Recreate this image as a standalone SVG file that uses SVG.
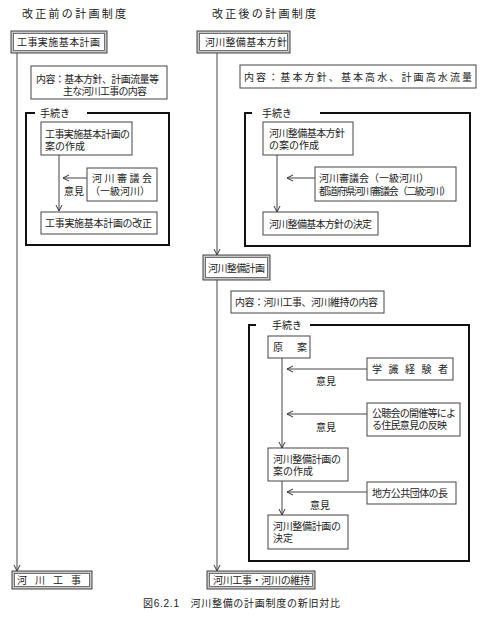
<svg xmlns="http://www.w3.org/2000/svg" width="481" height="617" viewBox="0 0 481 617">
<defs>
<marker id="arr" viewBox="0 0 8 8" refX="7" refY="4" markerWidth="8" markerHeight="8" markerUnits="userSpaceOnUse" orient="auto">
<path d="M1,1 L7,4 L1,7" fill="none" stroke="#333" stroke-width="1"/>
</marker>
<style>
text{font-family:"Liberation Sans","Noto Sans CJK JP","Noto Sans CJK SC",sans-serif;font-size:10px;fill:#222}
.t{font-size:11px}
.b{fill:#fff;stroke:#444;stroke-width:1}
.dbo{fill:#c8c8c8;stroke:#444;stroke-width:1}
.dbi{fill:#fff;stroke:#555;stroke-width:0.8}
.pr{fill:none;stroke:#111;stroke-width:2}
.ln{fill:none;stroke:#444;stroke-width:1}
.gap{stroke:#fff;stroke-width:4}
</style>
</defs>
<rect width="481" height="617" fill="#fff"/>

<g id="connectors">
<line class="ln" x1="17" y1="53" x2="17" y2="571" marker-end="url(#arr)"/>
<line class="ln" x1="59" y1="155" x2="59" y2="211" marker-end="url(#arr)"/>
<line class="ln" x1="87" y1="178" x2="63" y2="178" marker-end="url(#arr)"/>
<line class="ln" x1="217" y1="53" x2="217" y2="255" marker-end="url(#arr)"/>
<line class="ln" x1="277" y1="155" x2="277" y2="212" marker-end="url(#arr)"/>
<line class="ln" x1="315" y1="178" x2="287" y2="178" marker-end="url(#arr)"/>
<line class="ln" x1="217" y1="280" x2="217" y2="571" marker-end="url(#arr)"/>
<line class="ln" x1="282" y1="358" x2="282" y2="448" marker-end="url(#arr)"/>
<line class="ln" x1="367" y1="369" x2="287" y2="369" marker-end="url(#arr)"/>
<line class="ln" x1="367" y1="414" x2="287" y2="414" marker-end="url(#arr)"/>
<line class="ln" x1="282" y1="481" x2="282" y2="515" marker-end="url(#arr)"/>
<line class="ln" x1="367" y1="492" x2="287" y2="492" marker-end="url(#arr)"/>
</g>

<g id="title-left"><text class="t" x="22" y="18" textLength="104">改正前の計画制度</text></g>
<g id="title-right"><text class="t" x="212" y="18" textLength="104">改正後の計画制度</text></g>

<g id="old-plan">
<rect class="dbo" x="11" y="31" width="96" height="22"/>
<rect class="dbi" x="13.5" y="33.5" width="91" height="17"/>
<text x="17" y="46" textLength="83">工事実施基本計画</text>
</g>
<g id="old-content">
<rect class="b" x="31" y="66" width="136" height="33"/>
<text x="36" y="83" textLength="123">内容：基本方針、計画流量等</text>
<text x="63" y="95" textLength="84">主な河川工事の内容</text>
</g>
<g id="old-procedure">
<rect class="pr" x="26" y="113" width="143" height="132"/>
<line class="gap" x1="35" y1="113" x2="87" y2="113"/>
<text x="40" y="117">手続き</text>
</g>
<g id="old-draft">
<rect class="b" x="41" y="122" width="91" height="33"/>
<text x="45" y="138" textLength="85">工事実施基本計画の</text>
<text x="45" y="150">案の作成</text>
</g>
<g id="old-council">
<rect class="b" x="87" y="168" width="70" height="33"/>
<text x="92" y="182" textLength="60">河川審議会</text>
<text x="90" y="195" textLength="60">（一級河川）</text>
</g>
<text x="64" y="195">意見</text>
<g id="old-revision">
<rect class="b" x="41" y="212" width="116" height="22"/>
<text x="45" y="227" textLength="107">工事実施基本計画の改正</text>
</g>
<g id="old-works">
<rect class="dbo" x="12" y="571" width="80" height="18"/>
<rect class="dbi" x="14.5" y="573.5" width="75" height="13"/>
<text x="17" y="584" textLength="64">河 川 工 事</text>
</g>

<g id="basic-policy">
<rect class="dbo" x="197" y="31" width="93" height="22"/>
<rect class="dbi" x="199.5" y="33.5" width="88" height="17"/>
<text x="205" y="46" textLength="82">河川整備基本方針</text>
</g>
<g id="basic-content">
<rect class="b" x="240" y="65" width="236" height="23"/>
<text x="244" y="81" textLength="228">内容：基本方針、基本高水、計画高水流量</text>
</g>
<g id="basic-procedure">
<rect class="pr" x="245" y="113" width="225" height="133"/>
<line class="gap" x1="252" y1="113" x2="320" y2="113"/>
<text x="262" y="117">手続き</text>
</g>
<g id="basic-draft">
<rect class="b" x="263" y="122" width="90" height="33"/>
<text x="269" y="137" textLength="76">河川整備基本方針</text>
<text x="269" y="149">の案の作成</text>
</g>
<g id="basic-council">
<rect class="b" x="315" y="167" width="141" height="34"/>
<text x="319" y="182">河川審議会（一級河川）</text>
<text x="319" y="195" textLength="132">都道府県河川審議会（二級河川）</text>
</g>
<g id="basic-decision">
<rect class="b" x="263" y="212" width="115" height="23"/>
<text x="269" y="228" textLength="103">河川整備基本方針の決定</text>
</g>

<g id="river-plan">
<rect class="dbo" x="203" y="255" width="67" height="25"/>
<rect class="dbi" x="205.5" y="257.5" width="62" height="20"/>
<text x="208" y="272" textLength="57">河川整備計画</text>
</g>
<g id="plan-content">
<rect class="b" x="231" y="291" width="153" height="22"/>
<text x="235" y="306" textLength="143">内容：河川工事、河川維持の内容</text>
</g>
<g id="plan-procedure">
<rect class="pr" x="249" y="325" width="220" height="236"/>
<line class="gap" x1="256" y1="325" x2="310" y2="325"/>
<text x="272" y="329">手続き</text>
</g>
<g id="draft-original">
<rect class="b" x="268" y="336" width="42" height="22"/>
<text x="273" y="351">原</text>
<text x="297" y="351">案</text>
</g>
<g id="experts">
<rect class="b" x="367" y="358" width="86" height="22"/>
<text x="372" y="373" textLength="76">学 識 経 験 者</text>
</g>
<text x="316" y="385">意見</text>
<g id="public-hearing">
<rect class="b" x="367" y="403" width="93" height="33"/>
<text x="372" y="417" textLength="84">公聴会の開催等によ</text>
<text x="372" y="429" textLength="75">る住民意見の反映</text>
</g>
<text x="316" y="431">意見</text>
<g id="plan-draft">
<rect class="b" x="268" y="448" width="80" height="33"/>
<text x="273" y="463" textLength="68">河川整備計画の</text>
<text x="273" y="475">案の作成</text>
</g>
<g id="local-gov">
<rect class="b" x="367" y="482" width="89" height="22"/>
<text x="372" y="497" textLength="76">地方公共団体の長</text>
</g>
<text x="310" y="509">意見</text>
<g id="plan-decision">
<rect class="b" x="268" y="515" width="80" height="34"/>
<text x="273" y="530" textLength="68">河川整備計画の</text>
<text x="273" y="542">決定</text>
</g>
<g id="new-works">
<rect class="dbo" x="207" y="571" width="108" height="18"/>
<rect class="dbi" x="209.5" y="573.5" width="103" height="13"/>
<text x="213" y="584" textLength="97">河川工事・河川の維持</text>
</g>

<g id="caption"><text x="143" y="607" textLength="197">図6.2.1　河川整備の計画制度の新旧対比</text></g>
</svg>
